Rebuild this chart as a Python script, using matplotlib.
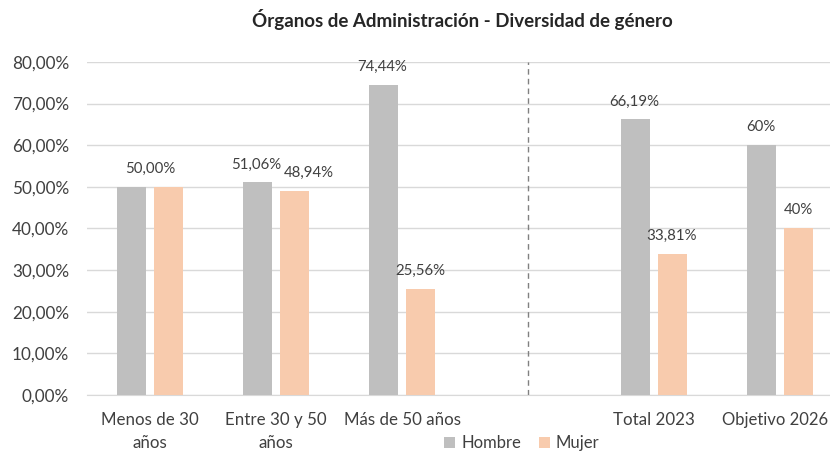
import matplotlib.pyplot as plt
import matplotlib.transforms as mtransforms
import numpy as np

plt.rcParams["font.family"] = ["Lato", "DejaVu Sans"]

# data
categories = ["Menos de 30\naños", "Entre 30 y 50\naños", "Más de 50 años", "", "Total 2023", "Objetivo 2026"]
hombre = [50.00, 51.06, 74.44, np.nan, 66.19, 60.0]
mujer = [50.00, 48.94, 25.56, np.nan, 33.81, 40.0]
hombre_labels = ["", "51,06%", "74,44%", "", "66,19%", "60%"]
mujer_labels = ["", "48,94%", "25,56%", "", "33,81%", "40%"]
yticks = [0, 10, 20, 30, 40, 50, 60, 70, 80]

gray = "#BFBFBF"
peach = "#F8CBAD"
text_c = "#404040"

fig = plt.figure(figsize=(8.3, 4.53), dpi=100)
ax = fig.add_axes([87 / 830, 1 - 395 / 453, 756 / 830, 333 / 453])

x = np.arange(len(categories))
w = 0.23
off = 0.143
ax.bar(x - off, hombre, w, color=gray, label="Hombre", zorder=3)
ax.bar(x + off, mujer, w, color=peach, label="Mujer", zorder=3)

# value labels
for i in range(len(x)):
    if hombre_labels[i]:
        ax.annotate(hombre_labels[i], (x[i] - off, hombre[i]), xytext=(-1, 13),
                    textcoords="offset points", ha="center", va="center", fontsize=10.8, color=text_c)
    if mujer_labels[i]:
        dx = 11 if i == 1 else 0  # avoid overlap with neighbour label
        ax.annotate(mujer_labels[i], (x[i] + off, mujer[i]), xytext=(dx, 13),
                    textcoords="offset points", ha="center", va="center", fontsize=10.8, color=text_c)
# equal values in first group: one label centred
ax.annotate("50,00%", (x[0], hombre[0]), xytext=(0, 13), textcoords="offset points",
            ha="center", va="center", fontsize=10.8, color=text_c)

ax.axvline(3, color="#808080", linestyle=(0, (4, 3)), linewidth=1, zorder=2)

ax.set_xlim(-0.5, len(categories) - 0.5)
ax.set_ylim(0, 80)
ax.set_yticks(yticks)
ax.set_yticklabels([f"{v:.2f}%".replace(".", ",") for v in yticks], fontsize=12.3, color=text_c)
ax.set_xticks(x)
ax.set_xticklabels(categories, fontsize=12.2, color=text_c, linespacing=1.55)
ax.tick_params(axis="y", length=0, pad=13)
ax.tick_params(axis="x", length=0, pad=12)
# last label sits at the right edge: nudge it inside
last = ax.get_xticklabels()[-1]
last.set_fontsize(12)
last.set_transform(last.get_transform() + mtransforms.ScaledTranslation(-5 / 100, 0, fig.dpi_scale_trans))
ax.yaxis.grid(True, color="#D9D9D9", linewidth=1, zorder=0)
for s in ["top", "right", "left"]:
    ax.spines[s].set_visible(False)
ax.spines["bottom"].set_color("#D9D9D9")

fig.text(462 / 830, 1 - 20 / 453, "Órganos de Administración - Diversidad de género",
         ha="center", va="center", fontsize=13.5, fontweight="bold", color="#262626")

fig.legend(loc="center", bbox_to_anchor=(522 / 830, 1 - 443 / 453), ncol=2, frameon=False,
           handlelength=0.65, handleheight=0.65, handletextpad=0.35, columnspacing=1.1,
           fontsize=12, labelcolor=text_c)

plt.savefig("out.png", dpi=100)
